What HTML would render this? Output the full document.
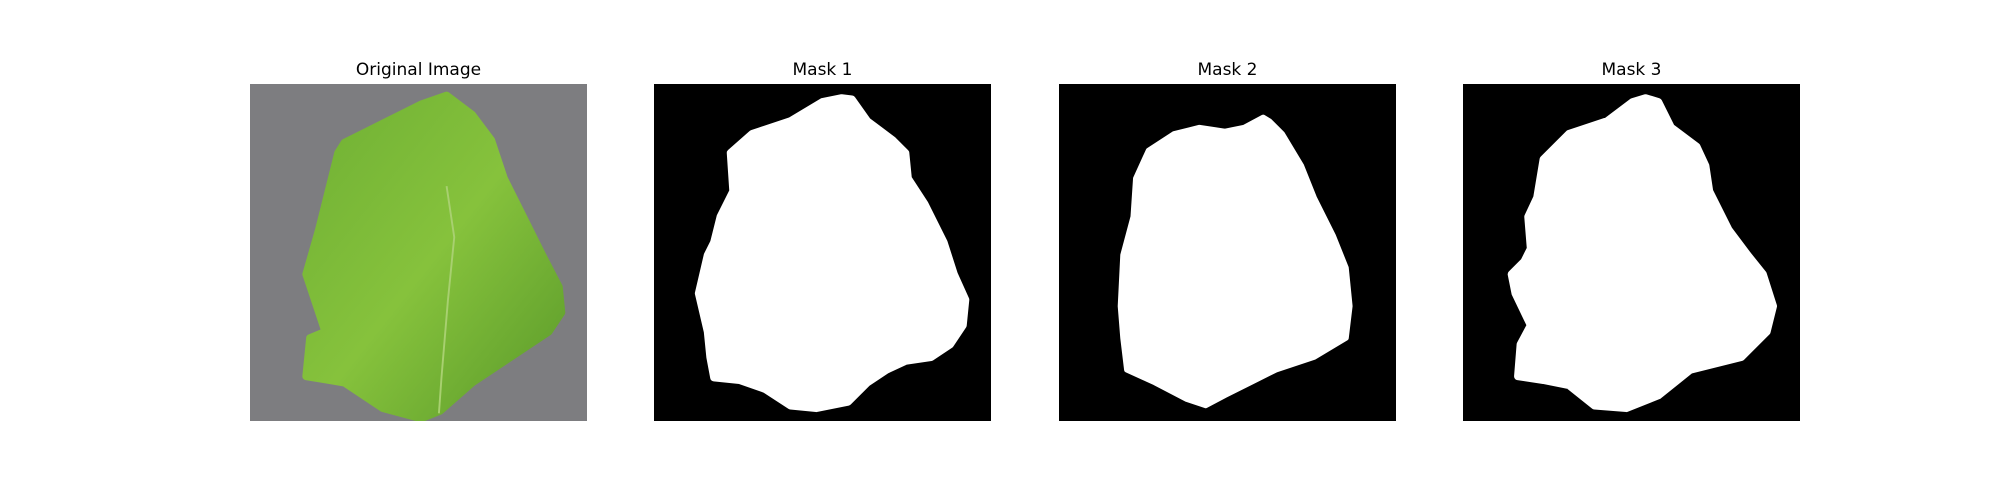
<!DOCTYPE html>
<html><head><meta charset="utf-8"><style>
body{margin:0;background:#fff;width:2000px;height:500px;overflow:hidden;position:relative;font-family:"DejaVu Sans","Liberation Sans",sans-serif}
.t{position:absolute;top:60px;width:337px;text-align:center;font-size:17px;color:#000}
svg{position:absolute;top:84px;width:337px;height:337px}
</style></head><body>
<div class="t" style="left:250px">Original Image</div>
<div class="t" style="left:654px">Mask 1</div>
<div class="t" style="left:1059px">Mask 2</div>
<div class="t" style="left:1463px">Mask 3</div>

<svg style="left:250px" viewBox="0 0 264 264" preserveAspectRatio="none">
<defs><linearGradient id="g" x1="0" y1="0" x2="1" y2="1"><stop offset="0" stop-color="#6fb034"/><stop offset="0.5" stop-color="#86c23c"/><stop offset="1" stop-color="#5a9a2a"/></linearGradient></defs>
<rect width="264" height="264" fill="#7d7d80"/>
<polygon fill="url(#g)" stroke="url(#g)" stroke-width="6" stroke-linejoin="round" points="74,46 134,16 154,9 174,24 189,44 199,74 214,104 229,134 242,159 244,179 234,194 204,214 174,234 149,256 134,262 104,254 74,234 62,232 44,229 47,199 59,194 44,149 54,114 64,74 69,54"/>
<polyline fill="none" stroke="#a8d070" stroke-width="1.5" points="154,80 160,120 155,170 150,230 148,258"/>
</svg>

<svg style="left:654px" viewBox="0 0 264 264" preserveAspectRatio="none">
<rect width="264" height="264" fill="#000"/>
<polygon fill="#fff" stroke="#fff" stroke-width="6" stroke-linejoin="round" points="147,11 155,12 167,29 187,44 197,54 199,74 212,94 227,124 235,149 244,169 242,189 232,204 217,214 197,217 182,224 167,234 152,249 127,254 107,252 87,239 67,232 47,230 44,214 42,194 35,164 42,134 47,124 52,104 62,84 60,54 77,39 107,29 132,14"/>
</svg>

<svg style="left:1059px" viewBox="0 0 264 264" preserveAspectRatio="none">
<rect width="264" height="264" fill="#000"/>
<polygon fill="#fff" stroke="#fff" stroke-width="4" stroke-linejoin="round" points="160,26 145,34 130,37 110,34 90,39 70,52 60,74 58,104 50,134 48,174 50,199 53,224 75,234 100,247 115,252 130,244 150,234 170,224 200,214 225,199 228,174 225,144 215,119 200,89 190,64 175,39 165,29"/>
</svg>

<svg style="left:1463px" viewBox="0 0 264 264" preserveAspectRatio="none">
<rect width="264" height="264" fill="#000"/>
<polygon fill="#fff" stroke="#fff" stroke-width="6" stroke-linejoin="round" points="143,11 153,14 163,34 183,49 190,64 193,84 208,114 223,134 235,149 243,174 238,194 218,214 198,219 178,224 153,244 128,254 103,252 83,236 63,232 43,229 45,204 53,189 41,164 38,149 48,139 53,129 51,104 58,89 63,59 83,39 113,29 133,14"/>
</svg>
</body></html>
